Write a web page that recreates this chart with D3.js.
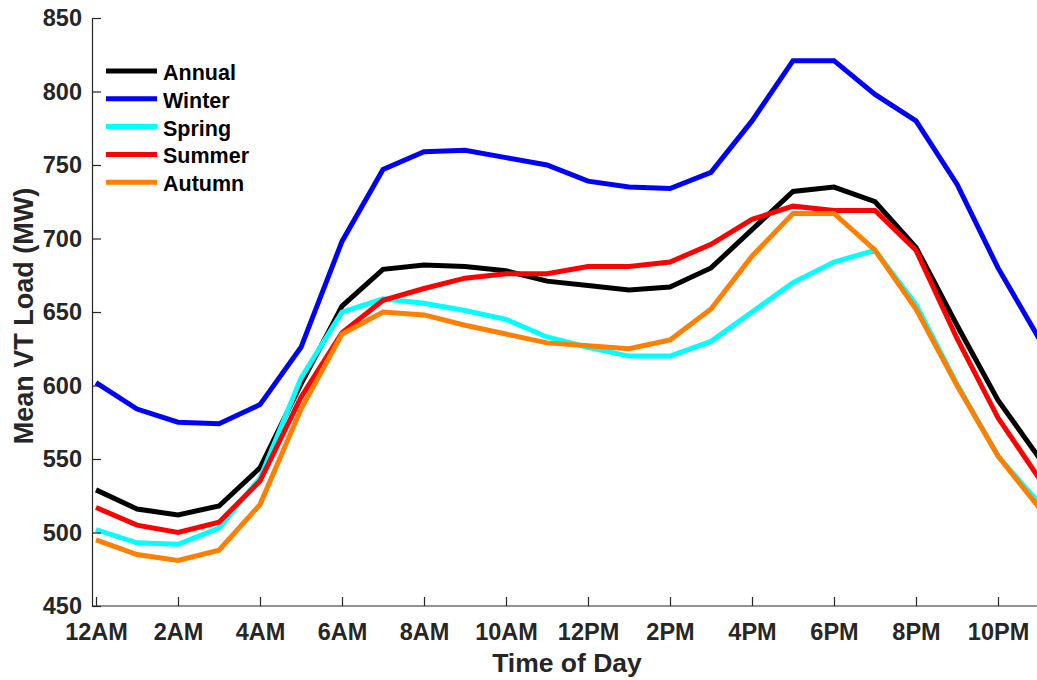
<!DOCTYPE html>
<html>
<head>
<meta charset="utf-8">
<script src="https://cdn.jsdelivr.net/npm/d3@7"></script>
<style>
  body { margin: 0; background: #fff; }
  svg { display: block; font-family: "Liberation Sans", Arial, sans-serif; font-weight: bold; }
</style>
</head>
<body>
<div id="chart"></div>
<script>
// hour of day, 0 = midnight
var hours = [0, 1, 2, 3, 4, 5, 6, 7, 8, 9, 10, 11, 12, 13, 14, 15, 16, 17, 18, 19, 20, 21, 22, 23];
var tickHours = [0, 2, 4, 6, 8, 10, 12, 14, 16, 18, 20, 22];
var tickLabels = ['12AM', '2AM', '4AM', '6AM', '8AM', '10AM', '12PM', '2PM', '4PM', '6PM', '8PM', '10PM'];
var yTicks = [450, 500, 550, 600, 650, 700, 750, 800, 850];

var annual = [529, 516, 512, 518, 544, 601, 654, 679, 682, 681, 678, 671, 668, 665, 667, 680, 706, 732, 735, 725, 694, 641, 590, 551];
var winter = [602, 584, 575, 574, 587, 626, 698, 747, 759, 760, 755, 750, 739, 735, 734, 745, 780, 821, 821, 798, 780, 737, 680, 632];
var spring = [502, 493, 492, 503, 537, 605, 650, 659, 656, 651, 645, 633, 626, 620, 620, 630, 650, 670, 684, 692, 655, 601, 552, 520];
var summer = [517, 505, 500, 507, 535, 592, 636, 658, 666, 673, 676, 676, 681, 681, 684, 696, 713, 722, 719, 719, 692, 632, 578, 537];
var autumn = [495, 485, 481, 488, 519, 584, 635, 650, 648, 641, 635, 629, 627, 625, 631, 652, 688, 717, 717, 692, 652, 600, 552, 517];

var seriesNames = ['Annual', 'Winter', 'Spring', 'Summer', 'Autumn'];
var seriesValues = [annual, winter, spring, summer, autumn];
var colors = ['#000000', '#0000ff', '#00ffff', '#ff0000', '#ff8000'];

var width = 1037, height = 680;
var axisColor = '#262626';

var svg = d3.select('#chart').append('svg')
  .attr('width', width)
  .attr('height', height);

var x = d3.scaleLinear().domain([0, 23]).range([96, 1039]);
var y = d3.scaleLinear().domain([450, 850]).range([606, 18]);
var axisLeftX = 92;

// lines
var line = d3.line()
  .x(function(d, i) { return x(hours[i]); })
  .y(function(d) { return y(d); });

svg.selectAll('path.series')
  .data(seriesValues)
  .enter()
  .append('path')
    .attr('class', 'series')
    .attr('d', line)
    .attr('fill', 'none')
    .attr('stroke', function(d, i) { return colors[i]; })
    .attr('stroke-width', 5)
    .attr('stroke-linejoin', 'miter');

// y axis
var yAxis = d3.axisLeft(y)
  .tickValues(yTicks)
  .tickSizeInner(-9)
  .tickSizeOuter(0)
  .tickPadding(10);

var gy = svg.append('g')
  .attr('transform', 'translate(' + axisLeftX + ',0)')
  .call(yAxis);
gy.select('.domain').attr('stroke', axisColor).attr('stroke-width', 1.2);
gy.selectAll('.tick line').attr('stroke', axisColor).attr('stroke-width', 1.2);
gy.selectAll('.tick text')
  .attr('fill', axisColor)
  .attr('font-size', 23.5)
  .attr('font-weight', 'bold')
  .attr('font-family', '"Liberation Sans", Arial, sans-serif');

// x axis
var xAxis = d3.axisBottom(x)
  .tickValues(tickHours)
  .tickFormat(function(d, i) { return tickLabels[i]; })
  .tickSizeInner(-9)
  .tickSizeOuter(0)
  .tickPadding(17);

var gx = svg.append('g')
  .attr('transform', 'translate(0,' + y(450) + ')')
  .call(xAxis);
gx.select('.domain')
  .attr('d', 'M' + axisLeftX + ',0H' + width)
  .attr('stroke', axisColor).attr('stroke-width', 1.2);
gx.selectAll('.tick line').attr('stroke', axisColor).attr('stroke-width', 1.2);
gx.selectAll('.tick text')
  .attr('fill', axisColor)
  .attr('font-size', 23.5)
  .attr('font-weight', 'bold')
  .attr('font-family', '"Liberation Sans", Arial, sans-serif');

// axis titles
svg.append('text')
  .attr('x', 567)
  .attr('y', 672)
  .attr('text-anchor', 'middle')
  .attr('fill', axisColor)
  .attr('font-size', 26.5)
  .text('Time of Day');

svg.append('text')
  .attr('transform', 'translate(33,316) rotate(-90)')
  .attr('text-anchor', 'middle')
  .attr('fill', axisColor)
  .attr('font-size', 27)
  .text('Mean VT Load (MW)');

// legend
var legend = svg.append('g').attr('transform', 'translate(106,71)');
var items = legend.selectAll('g')
  .data(seriesNames)
  .enter()
  .append('g')
    .attr('transform', function(d, i) { return 'translate(0,' + (i * 27.8) + ')'; });

items.append('line')
  .attr('x1', 0).attr('x2', 51)
  .attr('y1', 0).attr('y2', 0)
  .attr('stroke', function(d, i) { return colors[i]; })
  .attr('stroke-width', 5);

items.append('text')
  .attr('x', 57)
  .attr('y', 9)
  .attr('font-size', 21.5)
  .attr('fill', '#000')
  .text(function(d) { return d; });
</script>
</body>
</html>
